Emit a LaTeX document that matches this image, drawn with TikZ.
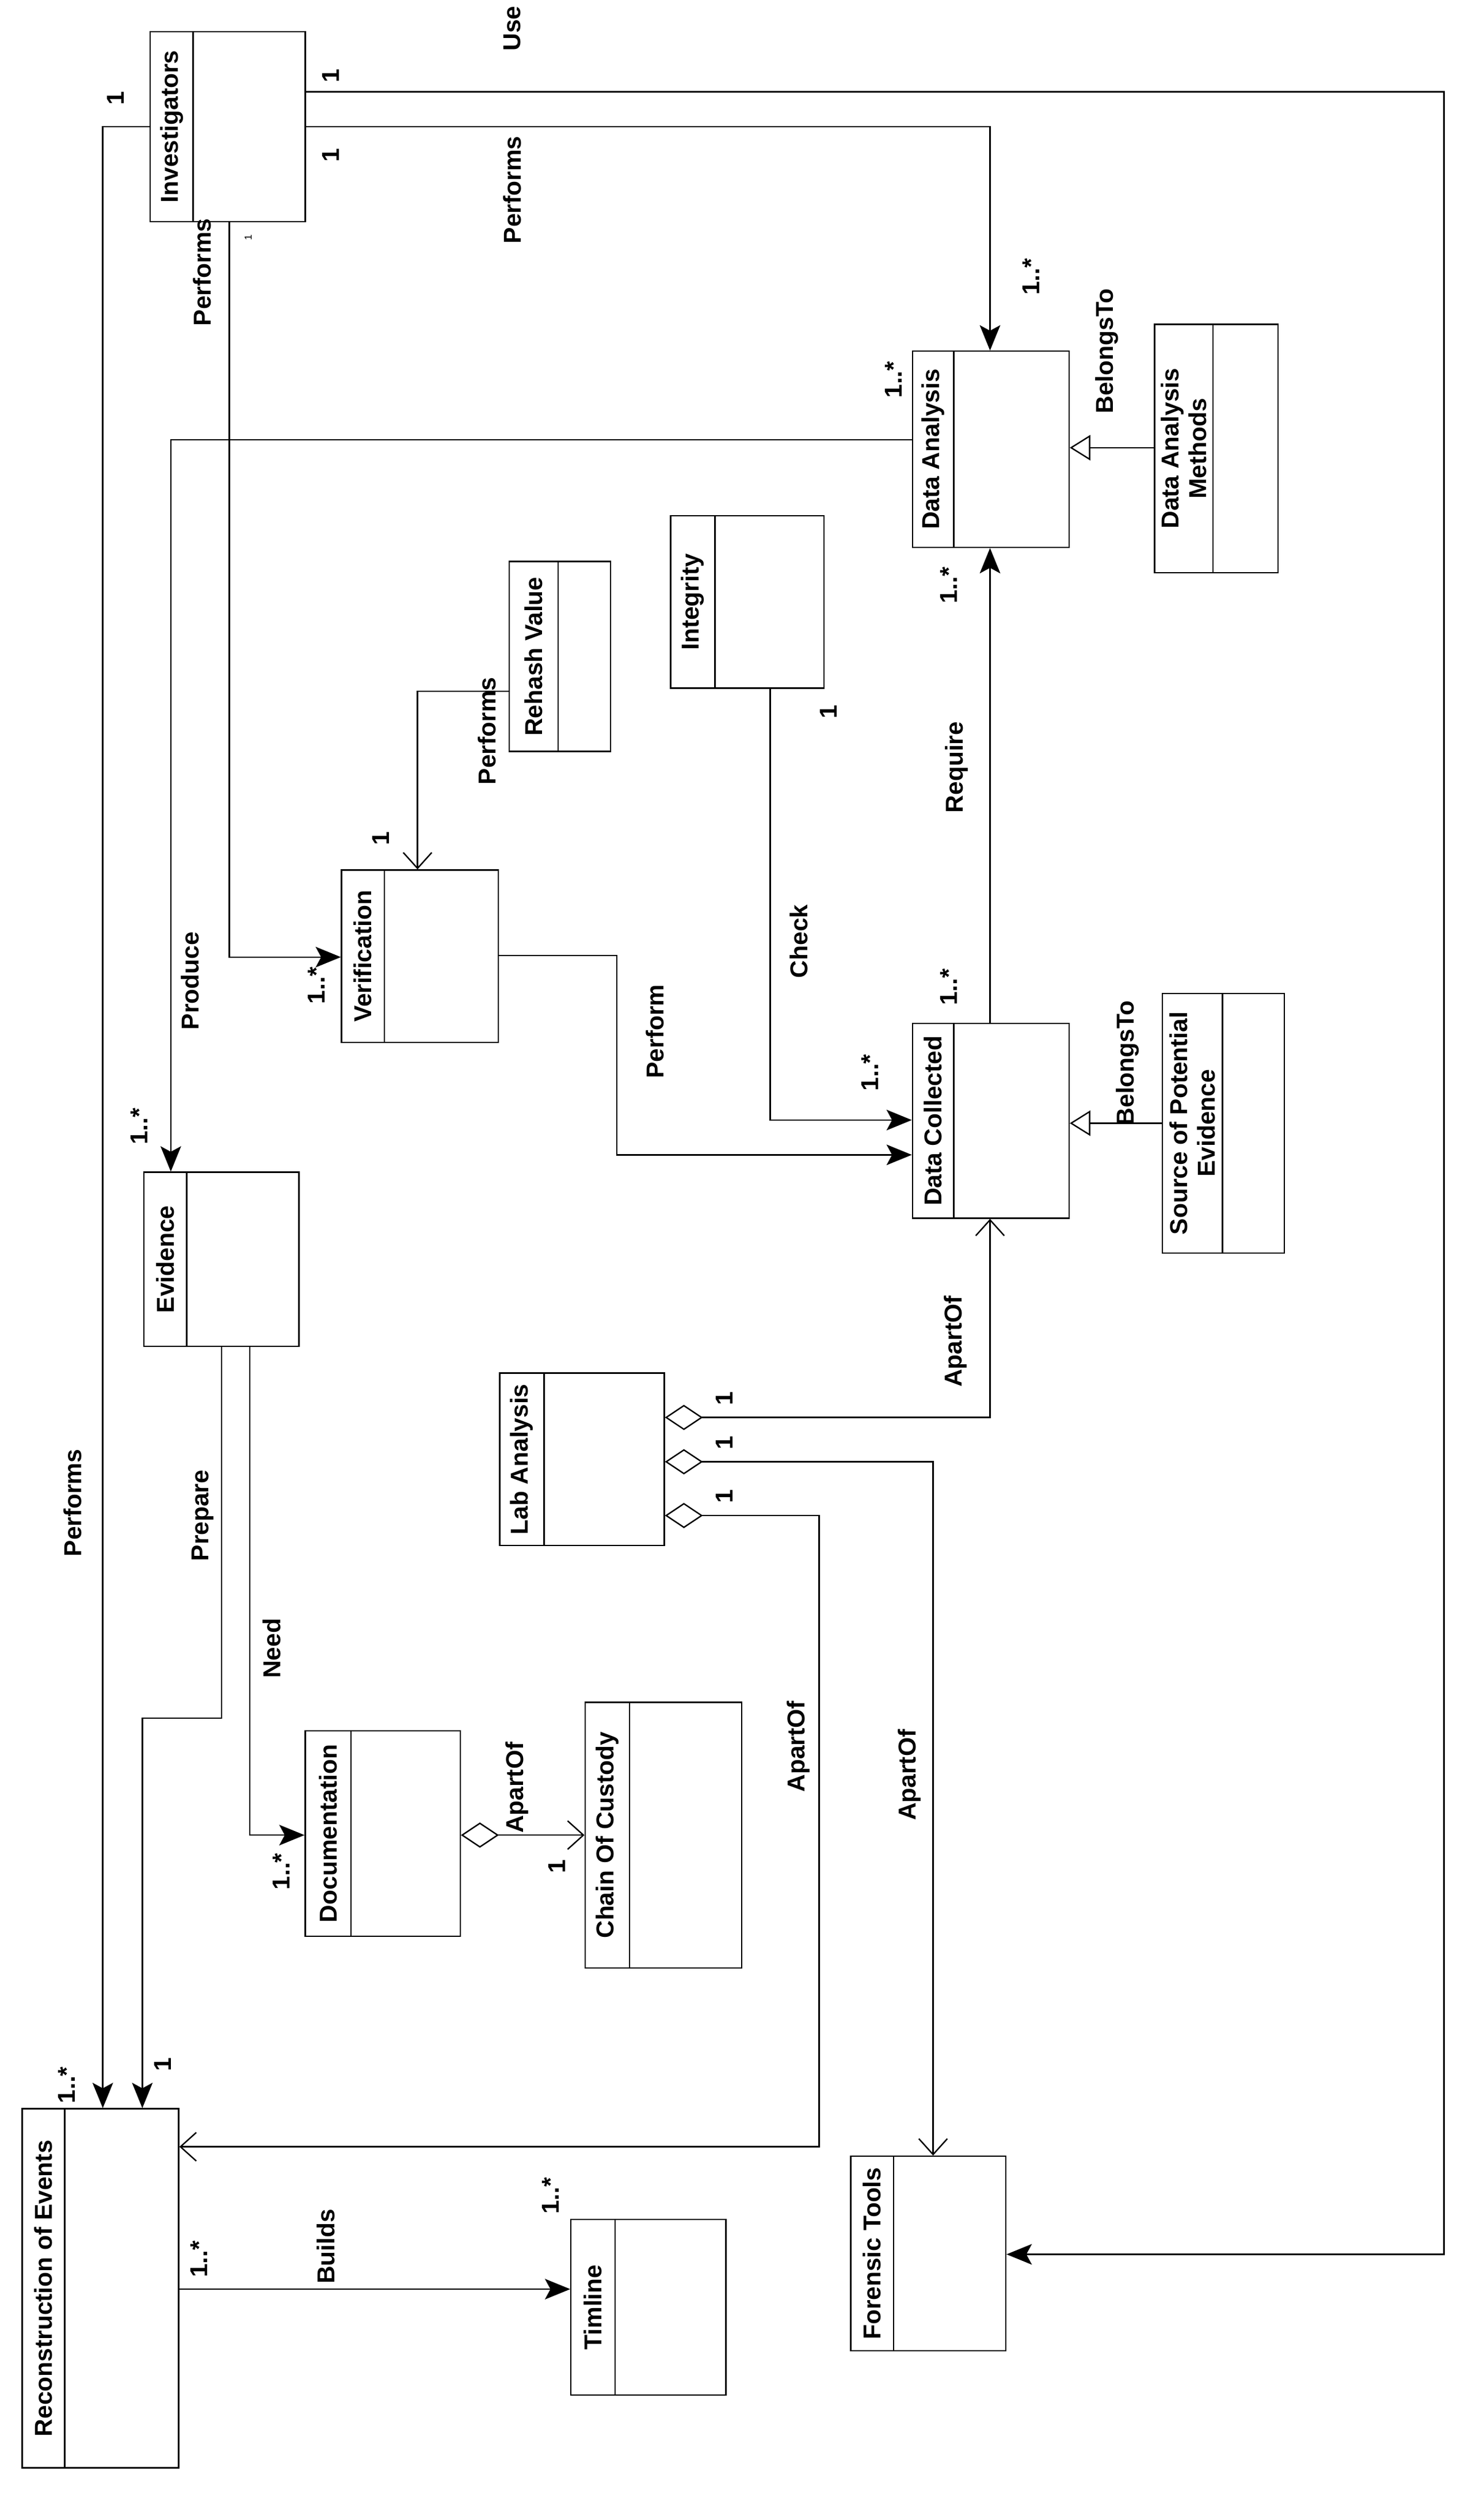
\documentclass[tikz,border=0pt]{standalone}
\usepackage{fontspec}
\setmainfont{Liberation Sans}
\usetikzlibrary{fit,arrows.meta}
\tikzset{
 cls/.style={draw,line width=2.5pt,inner sep=0pt},
 ln/.style={line width=2.5pt},
 fa/.style={ln,-{Stealth[length=1.6cm,width=1.3cm,inset=0.35cm]}},
 oa/.style={ln,-{Straight Barb[length=1cm,width=1.8cm]}},
 gen/.style={ln,-{Triangle[open,length=1.3cm,width=1.6cm,fill=white]}},
 agg/.style={ln,{Diamond[open,length=2.4cm,width=1.6cm,fill=white]}-{Straight Barb[length=1cm,width=1.8cm]}},
 lab/.style={rotate=90,font=\fontsize{44}{50}\selectfont\bfseries,inner sep=0pt},
 cn/.style={rotate=90,font=\fontsize{44}{50}\selectfont\bfseries,inner sep=0pt,align=center},
}
\newcommand\umlc[7]{%
 \node[cls,fit={(#2,#3)(#4,#5)}] (#1) {};
 \draw[ln] (#6,#3) -- (#6,#5);
 \node[cn] at ({(#2+#6)/2},{(#3+#5)/2}) {#7};}
\begin{document}
\begin{tikzpicture}[x=0.1cm,y=-0.1cm]
\useasboundingbox (0,0) rectangle (938,1586);
\umlc{inv}{95}{20}{193}{140}{122}{Investigators}
\umlc{da}{577}{222}{676}{346}{603}{Data Analysis}
\umlc{dam}{730}{205}{808}{362}{767}{Data Analysis\\Methods}
\umlc{integ}{424}{326}{521}{435}{452}{Integrity}
\umlc{rh}{322}{355}{386}{475}{353}{Rehash Value}
\umlc{ver}{216}{550}{315}{659}{243}{Verification}
\umlc{dc}{577}{647}{676}{770}{603}{Data Collected}
\umlc{spe}{735}{628}{812}{792}{773}{Source of Potential\\Evidence}
\umlc{ev}{91}{741}{189}{851}{118}{Evidence}
\umlc{lab}{316}{868}{420}{977}{344}{Lab Analysis}
\umlc{doc}{193}{1094}{291}{1224}{222}{Documentation}
\umlc{coc}{370}{1076}{469}{1244}{398}{Chain Of Custody}
\umlc{rec}{14}{1333}{113}{1560}{41}{Reconstruction of Events}
\umlc{tim}{361}{1403}{459}{1514}{389}{Timline}
\umlc{ft}{538}{1363}{636}{1486}{565}{Forensic Tools}
% connectors
\draw[fa] (inv.east |- 0,58) -- (913,58) -- (913,1425) -- (ft.east |- 0,1425);
\draw[fa] (inv.east |- 0,80) -- (626,80) -- (da.north -| 626,0);
\draw[fa] (inv.south -| 145,0) -- (145,605) -- (ver.west |- 0,605);
\draw[fa] (inv.west |- 0,80) -- (65,80) -- (rec.north -| 65,0);
\draw[fa] (da.west |- 0,278) -- (108,278) -- (ev.north -| 108,0);
\draw[gen] (dam.west |- 0,283) -- (da.east |- 0,283);
\draw[oa] (rh.west |- 0,437) -- (264,437) -- (ver.north -| 264,0);
\draw[fa] (ver.east |- 0,604) -- (390,604) -- (390,730) -- (dc.west |- 0,730);
\draw[fa] (integ.south -| 487,0) -- (487,708) -- (dc.west |- 0,708);
\draw[fa] (dc.north -| 626,0) -- (da.south -| 626,0);
\draw[gen] (spe.west |- 0,710) -- (dc.east |- 0,710);
\draw[agg] (lab.east |- 0,896) -- (626,896) -- (dc.south -| 626,0);
\draw[agg] (lab.east |- 0,924) -- (590,924) -- (ft.north -| 590,0);
\draw[agg] (lab.east |- 0,958) -- (518,958) -- (518,1357) -- (rec.east |- 0,1357);
\draw[fa] (ev.south -| 140,0) -- (140,1086) -- (90,1086) -- (rec.north -| 90,0);
\draw[fa] (ev.south -| 158,0) -- (158,1160) -- (doc.west |- 0,1160);
\draw[agg] (doc.east |- 0,1160) -- (coc.west |- 0,1160);
\draw[fa] (rec.east |- 0,1447) -- (tim.west |- 0,1447);
% labels
\node[lab] at (324,18) {Use};
\node[lab] at (209,48) {1};
\node[lab] at (324,120) {Performs};
\node[lab] at (209,98) {1};
\node[lab] at (652,175) {1..*};
\node[lab] at (128,172) {Performs};
\node[rotate=90,font=\fontsize{18}{20}\selectfont] at (157,150) {1};
\node[lab] at (200,623) {1..*};
\node[lab] at (73,62) {1};
\node[lab] at (46,950) {Performs};
\node[lab] at (42,1318) {1..*};
\node[lab] at (120,620) {Produce};
\node[lab] at (88,712) {1..*};
\node[lab] at (565,240) {1..*};
\node[lab] at (700,222) {BelongsTo};
\node[lab] at (308,462) {Performs};
\node[lab] at (241,530) {1};
\node[lab] at (414,652) {Perform};
\node[lab] at (505,595) {Check};
\node[lab] at (524,450) {1};
\node[lab] at (550,678) {1..*};
\node[lab] at (605,485) {Require};
\node[lab] at (600,370) {1..*};
\node[lab] at (600,624) {1..*};
\node[lab] at (713,672) {BelongsTo};
\node[lab] at (458,884) {1};
\node[lab] at (604,848) {ApartOf};
\node[lab] at (458,912) {1};
\node[lab] at (575,1122) {ApartOf};
\node[lab] at (458,946) {1};
\node[lab] at (505,1104) {ApartOf};
\node[lab] at (128,958) {Prepare};
\node[lab] at (103,1305) {1};
\node[lab] at (172,1042) {Need};
\node[lab] at (178,1183) {1..*};
\node[lab] at (327,1130) {ApartOf};
\node[lab] at (352,1180) {1};
\node[lab] at (126,1428) {1..*};
\node[lab] at (206,1420) {Builds};
\node[lab] at (348,1388) {1..*};
\end{tikzpicture}
\end{document}
